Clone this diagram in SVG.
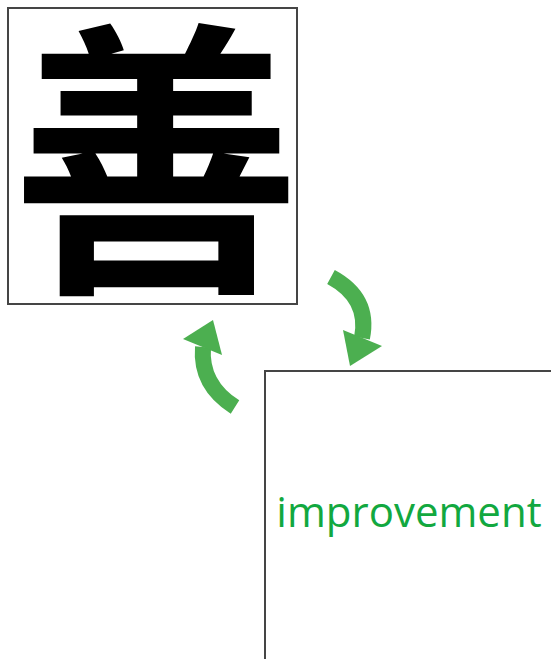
<svg xmlns="http://www.w3.org/2000/svg" width="551" height="659" viewBox="0 0 551 659">
<style>
.box{fill:#fff;stroke:#454545;stroke-width:2}
.shaft{fill:none;stroke:#4caf50;stroke-width:16}
.head{fill:#4caf50}
.hanzi{font-family:"Noto Sans CJK SC","Noto Sans CJK TC",sans-serif;font-weight:700;fill:#000}
.label{font-family:"Open Sans","Noto Sans",sans-serif;fill:#12a83f}
</style>
<rect width="551" height="659" fill="#fff"/>
<g id="node-hanzi">
<rect class="box" x="8" y="8" width="289" height="296"/>
<text class="hanzi" x="156" y="270" font-size="290" text-anchor="middle">善</text>
</g>
<g id="node-improvement">
<rect x="265" y="371" width="286" height="288" fill="#fff"/>
<path class="box" fill="none" d="M265,659 V371 H551"/>
<text class="label" x="409" y="527" font-size="42" text-anchor="middle">improvement</text>
</g>
<g id="connectors">
<path class="shaft" d="M331,277 Q370,298 362,338"/>
<polygon class="head" points="343,330 382,346 350,366"/>
<path class="shaft" d="M235,407 Q200,385 203,347"/>
<polygon class="head" points="183,339 222,355 213,320"/>
</g>
</svg>
